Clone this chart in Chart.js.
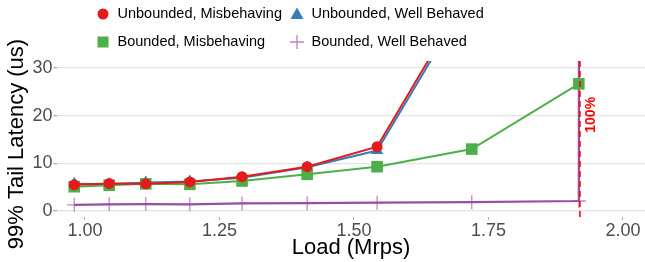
<!DOCTYPE html>
<html>
<head>
<meta charset="utf-8">
<script src="https://cdn.jsdelivr.net/npm/chart.js"></script>
<style>
  body { margin: 0; background: #fff; }
  #wrap { width: 645px; height: 262px; }
</style>
</head>
<body>
<div id="wrap"><canvas id="myChart" width="645" height="262"></canvas></div>
<script>
// Data
const loadX = [0.980, 1.045, 1.113, 1.195, 1.292, 1.413, 1.543, 1.719, 1.918];
const unboundedMis = [5.5, 5.8, 5.7, 6.1, 7.2, 9.3, 13.5, 47];
const unboundedWell = [5.7, 5.6, 6.0, 6.2, 7.0, 9.2, 12.7, 46];
const boundedMis = [5.1, 5.4, 5.7, 5.6, 6.3, 7.7, 9.3, 13.0, 26.7];
const boundedWellX = [0.980, 1.045, 1.113, 1.195, 1.292, 1.413, 1.543, 1.719, 1.918, 1.9185];
const boundedWell = [1.3, 1.4, 1.45, 1.4, 1.6, 1.65, 1.75, 1.85, 2.1, 80];
const xTicks = [1.0, 1.25, 1.5, 1.75, 2.0];
const yTicks = [0, 10, 20, 30];
const capacityX = 1.92;
const capacityLabel = "100%";
const yTitle = "99% Tail Latency (us)";

const FONT = "'Liberation Sans', Arial, Helvetica, sans-serif";
const RED = "#E41A1C", BLUE = "#377EB8", GREEN = "#4DAF4A", PURPLE = "#984EA3";

function pts(xs, ys) {
  return ys.map((y, i) => ({ x: xs[i], y: y }));
}

// legend drawn as a 2x2 grid like ggplot
const legendItems = [
  { label: "Unbounded, Misbehaving", color: RED, shape: "circle", x: 103, y: 14 },
  { label: "Unbounded, Well Behaved", color: BLUE, shape: "triangle", x: 297, y: 14 },
  { label: "Bounded, Misbehaving", color: GREEN, shape: "square", x: 103, y: 42 },
  { label: "Bounded, Well Behaved", color: PURPLE, shape: "plus", x: 297, y: 42 },
];

function drawShape(ctx, shape, x, y, color) {
  ctx.save();
  ctx.fillStyle = color;
  ctx.strokeStyle = color;
  ctx.beginPath();
  if (shape == "circle") {
    ctx.arc(x, y, 5.5, 0, Math.PI * 2);
    ctx.fill();
  } else if (shape == "triangle") {
    ctx.moveTo(x, y - 6.5);
    ctx.lineTo(x + 6.5, y + 5);
    ctx.lineTo(x - 6.5, y + 5);
    ctx.closePath();
    ctx.fill();
  } else if (shape == "square") {
    ctx.rect(x - 5.5, y - 5.5, 11, 11);
    ctx.fill();
  } else {
    ctx.globalAlpha = 0.7;
    ctx.lineWidth = 1.3;
    ctx.moveTo(x - 7, y);
    ctx.lineTo(x + 7, y);
    ctx.moveTo(x, y - 7);
    ctx.lineTo(x, y + 7);
    ctx.stroke();
  }
  ctx.restore();
}

const extras = {
  id: "extras",
  afterDatasetsDraw(chart) {
    const ctx = chart.ctx;
    const area = chart.chartArea;
    const px = chart.scales.x.getPixelForValue(capacityX);
    // capacity line
    ctx.save();
    ctx.strokeStyle = "#FF0000";
    ctx.lineWidth = 1.6;
    ctx.setLineDash([6, 4]);
    ctx.beginPath();
    ctx.moveTo(px, area.top);
    ctx.lineTo(px, area.bottom);
    ctx.stroke();
    ctx.setLineDash([]);
    ctx.translate(px + 11, chart.scales.y.getPixelForValue(20.2));
    ctx.rotate(-Math.PI / 2);
    ctx.fillStyle = "#FF0000";
    ctx.font = "bold 14px " + FONT;
    ctx.textAlign = "center";
    ctx.textBaseline = "middle";
    ctx.fillText(capacityLabel, 0, 0);
    ctx.restore();
  },
  afterDraw(chart) {
    const ctx = chart.ctx;
    ctx.save();
    ctx.font = "14.5px " + FONT;
    ctx.fillStyle = "#000";
    ctx.textBaseline = "middle";
    legendItems.forEach((it) => {
      drawShape(ctx, it.shape, it.x, it.y, it.color);
      ctx.fillText(it.label, it.x + 14.5, it.y);
    });
    // y axis title
    ctx.translate(17, 144);
    ctx.rotate(-Math.PI / 2);
    ctx.font = "22px " + FONT;
    ctx.textAlign = "center";
    ctx.fillText(yTitle, 0, 0);
    ctx.restore();
  },
};

const ctx = document.querySelector("#myChart").getContext("2d");

const myChart = new Chart(ctx, {
  type: "line",
  data: {
    datasets: [
      {
        label: "Unbounded, Misbehaving",
        data: pts(loadX, unboundedMis),
        borderColor: RED,
        backgroundColor: RED,
        borderWidth: 2,
        pointStyle: "circle",
        pointRadius: 5.5,
        pointBorderWidth: 0,
        order: 0,
      },
      {
        label: "Bounded, Misbehaving",
        data: pts(loadX, boundedMis),
        borderColor: GREEN,
        backgroundColor: GREEN,
        borderWidth: 2,
        pointStyle: "rect",
        pointRadius: 8.2,
        pointBorderWidth: 0,
        order: 1,
      },
      {
        label: "Unbounded, Well Behaved",
        data: pts(loadX, unboundedWell),
        borderColor: BLUE,
        backgroundColor: BLUE,
        borderWidth: 2,
        pointStyle: "triangle",
        pointRadius: 7,
        pointBorderWidth: 0,
        order: 2,
      },
      {
        label: "Bounded, Well Behaved",
        data: pts(boundedWellX, boundedWell),
        borderColor: PURPLE,
        backgroundColor: PURPLE,
        borderWidth: 2.2,
        pointStyle: "cross",
        pointRadius: (c) => (c.dataIndex == boundedWell.length - 1 ? 0 : 7),
        pointBorderWidth: 1.3,
        pointBorderColor: "rgba(152,78,163,0.65)",
        order: 3,
      },
    ],
  },
  options: {
    responsive: false,
    animation: false,
    events: [],
    layout: { autoPadding: false, padding: { top: 61, right: 0, left: 0, bottom: 0 } },
    plugins: {
      legend: { display: false },
      tooltip: { enabled: false },
    },
    scales: {
      x: {
        type: "linear",
        min: 0.948,
        max: 2.041,
        afterFit: (s) => { s.height = 45; s.paddingLeft = 0; s.paddingRight = 0; },
        afterBuildTicks: (s) => { s.ticks = xTicks.map((v) => ({ value: v })); },
        grid: { color: "rgba(0,0,0,0)", tickColor: "#aaa", tickLength: 3, drawTicks: true },
        border: { display: false },
        ticks: {
          color: "#4d4d4d",
          font: { family: FONT, size: 18 },
          padding: 0,
          maxRotation: 0,
          callback: (v) => v.toFixed(2),
        },
        title: {
          display: true,
          text: "Load (Mrps)",
          color: "#000",
          font: { family: FONT, size: 22 },
          padding: { top: 0, bottom: 1 },
        },
      },
      y: {
        min: -1.26,
        max: 31.5,
        afterFit: (s) => { s.width = 57; s.paddingTop = 0; s.paddingBottom = 0; },
        afterBuildTicks: (s) => { s.ticks = yTicks.map((v) => ({ value: v })); },
        grid: { color: "#e3e3e3", lineWidth: 1.3, tickColor: "#aaa", tickLength: 3.5 },
        border: { display: false },
        ticks: {
          color: "#4d4d4d",
          font: { family: FONT, size: 18 },
          padding: 1,
        },
        title: { display: false },
      },
    },
  },
  plugins: [extras],
});
</script>
</body>
</html>
